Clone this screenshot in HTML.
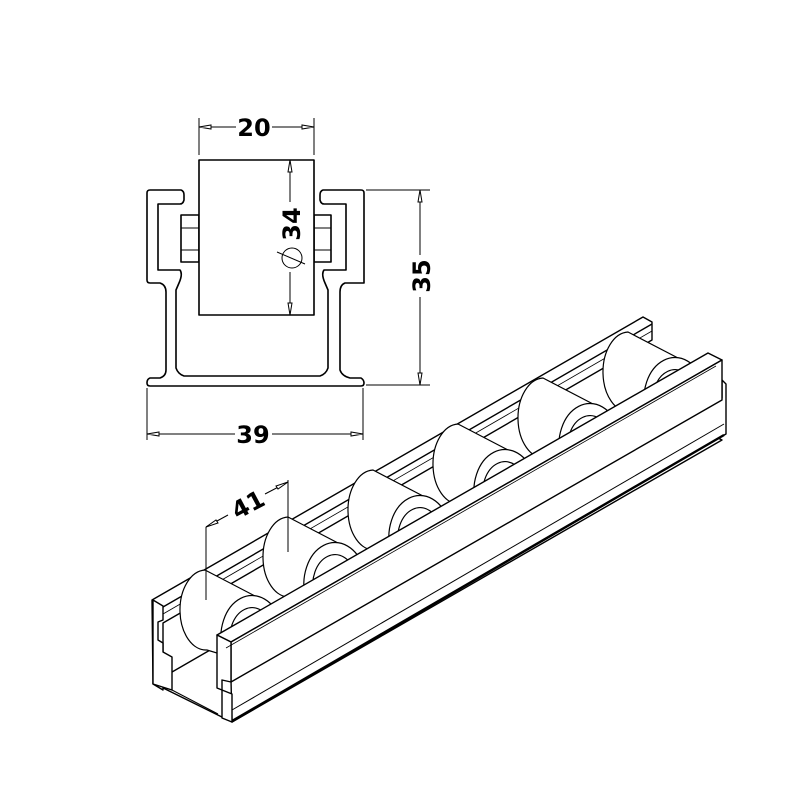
<!DOCTYPE html>
<html><head><style>html,body{margin:0;padding:0;background:#fff}svg{display:block}</style></head>
<body>
<svg width="800" height="800" viewBox="0 0 800 800" xmlns="http://www.w3.org/2000/svg" font-family="'DejaVu Sans','Liberation Sans',sans-serif">
<defs>
<g id="roller">
<path d="M-2,-38 L48,-12 L60,60 L0,42 A26,40 0 0 1 -2,-38 Z"/>
<path d="M16,44 A30,40 0 0 1 74,14 L74,50 Z"/>
<path d="M24,40 A22,30 0 0 1 66,20" fill="none"/>
<path d="M30,40 l4,-16 M38,40 l5,-22 M47,40 l4,-24 M56,40 l3,-22 M64,40 l2,-18" fill="none"/>
</g>
</defs>
<g fill="#fff" stroke="#000" stroke-width="1.6" stroke-linejoin="round">
<path d="M150,190 L181,190 Q184,191 184,195 L184,200 Q183,204 180,204 L158,204 L158,270 L180,270 Q183,274 179,283 L176,290 L176,368 Q178,374 184,376 L320,376 Q326,374 328,368 L328,290 L325,283 Q321,274 324,270 L346,270 L346,204 L324,204 Q321,204 320,200 L320,195 Q320,191 323,190 L361,190 Q364,190 364,193 L364,283 L345,283 Q340,285 340,292 L340,370 Q342,376 350,378 L361,378 Q364,380 364,383 Q364,386 361,386 L150,386 Q147,386 147,383 Q147,379 150,378 L160,378 Q166,376 166,370 L166,292 Q166,285 160,283 L150,283 Q147,283 147,280 L147,193 Q147,190 150,190 Z"/>
<rect x="181" y="215" width="18" height="47"/>
<rect x="314" y="215" width="17" height="47"/>
<rect x="199" y="160" width="115" height="155"/>
</g>
<g stroke="#000" stroke-width="1" fill="none">
<line x1="181" y1="228" x2="199" y2="228"/><line x1="181" y1="250" x2="199" y2="250"/>
<line x1="314" y1="228" x2="331" y2="228"/><line x1="314" y1="250" x2="331" y2="250"/>
<line x1="199" y1="118" x2="199" y2="155"/><line x1="314" y1="118" x2="314" y2="155"/>
<line x1="199" y1="127" x2="236" y2="127"/><line x1="272" y1="127" x2="314" y2="127"/>
<line x1="290" y1="160" x2="290" y2="202"/><line x1="290" y1="272" x2="290" y2="315"/>
<circle cx="292" cy="258" r="10"/><line x1="277" y1="252" x2="305" y2="264"/>
<line x1="366" y1="190" x2="430" y2="190"/><line x1="366" y1="385" x2="430" y2="385"/>
<line x1="420" y1="190" x2="420" y2="255"/><line x1="420" y1="297" x2="420" y2="385"/>
<line x1="147" y1="388" x2="147" y2="440"/><line x1="363" y1="388" x2="363" y2="440"/>
<line x1="147" y1="434" x2="235" y2="434"/><line x1="272" y1="434" x2="363" y2="434"/>
</g>
<g fill="#fff" stroke="#000" stroke-width="1">
<path d="M199,127 l12,-2 l0,4 z M314,127 l-12,-2 l0,4 z"/>
<path d="M290,160 l-2,12 l4,0 z M290,315 l-2,-12 l4,0 z"/>
<path d="M420,190 l-2,12 l4,0 z M420,385 l-2,-12 l4,0 z"/>
<path d="M147,434 l12,-2 l0,4 z M363,434 l-12,-2 l0,4 z"/>
</g>
<g font-weight="bold" font-size="24" fill="#000" text-anchor="middle">
<text x="254" y="136">20</text>
<text x="253" y="443">39</text>
<text transform="translate(300,224) rotate(-90)">34</text>
<text transform="translate(430,276) rotate(-90)">35</text>
</g>

<g fill="#fff" stroke="#000" stroke-width="1.4" stroke-linejoin="round">
<path d="M153,683 L643,400 L722,440 L232,722 Z"/>
<path d="M152,600 L643,317 L652,322 L652,340 L163,623 L163,690 L153,684 Z"/>
<line x1="163" y1="607" x2="652" y2="324"/>
<line x1="163" y1="614" x2="652" y2="331" stroke-width="0.8"/>
<path d="M153,600 L163,606 L163,620 L158,622 L158,640 L163,643 L163,652 L172,657 L172,690 L153,684 Z"/>
<line x1="172" y1="690" x2="218" y2="714" stroke-width="1"/>
</g>
<g fill="#fff" stroke="#000" stroke-width="1.2">
<use href="#roller" transform="translate(630,370)"/>
<use href="#roller" transform="translate(545,416)"/>
<use href="#roller" transform="translate(460,462)"/>
<use href="#roller" transform="translate(375,508)"/>
<use href="#roller" transform="translate(290,555)"/>
<use href="#roller" transform="translate(207,608)"/>
</g>
<g fill="#fff" stroke="#000" stroke-width="1.4" stroke-linejoin="round">
<path d="M231,680 L722,398 L722,380 L726,384 L726,434 L232,722 Z"/>
<path d="M217,635 L708,353 L722,360 L231,642 Z"/>
<path d="M231,642 L722,360 L722,400 L231,682 Z"/>
<path d="M217,635 L231,642 L231,682 L222,680 L222,690 L217,688 Z"/>
<path d="M222,690 L232,694 L232,722 L222,718 Z"/>
<line x1="232" y1="710" x2="724" y2="424" stroke-width="1"/>
<line x1="232" y1="721" x2="724" y2="435" stroke-width="2.4"/>
<line x1="226" y1="648" x2="716" y2="366" stroke-width="0.8"/>
</g>
<g stroke="#000" stroke-width="1" fill="none">
<line x1="206" y1="527" x2="206" y2="600"/>
<line x1="288" y1="480" x2="288" y2="552"/>
<line x1="206" y1="527" x2="228" y2="515"/>
<line x1="265" y1="494" x2="288" y2="482"/>
</g>
<g fill="#fff" stroke="#000" stroke-width="1">
<path d="M206,527 l10,-7 l2,3 z M288,482 l-10,7 l-2,-3 z"/>
</g>
<text transform="translate(252,512) rotate(-28)" font-weight="bold" font-size="24" text-anchor="middle" fill="#000">41</text>
</svg>
</body></html>
